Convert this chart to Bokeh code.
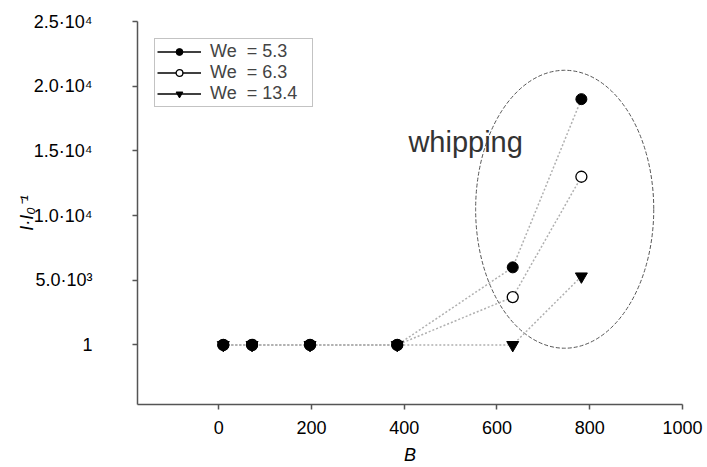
from bokeh.plotting import figure
from bokeh.models import Range1d, FixedTicker, Legend, LegendItem, ColumnDataSource
from bokeh.core.properties import value
from bokeh.embed import file_html
from bokeh.resources import INLINE

# ---- data ----
b_values = [10, 72, 197, 385, 634, 782]
we53 = [1, 1, 1, 1, 6000, 19000]
we63 = [1, 1, 1, 1, 3700, 13000]
we134 = [1, 1, 1, 1, 1, 5300]
series_labels = ["We\u00a0\u00a0= 5.3", "We\u00a0\u00a0= 6.3", "We\u00a0\u00a0= 13.4"]

y_ticks = [0, 5000, 10000, 15000, 20000, 25000]
y_tick_labels = ["1", "5.0·10³", "1.0·10⁴", "1.5·10⁴", "2.0·10⁴", "2.5·10⁴"]
x_ticks = [0, 200, 400, 600, 800, 1000]

# annotation: ellipse around the whipping regime, and its label
ellipse_center = [746, 10490]
ellipse_size = [384, 21480]
note_text = "whipping"
note_pos = [409, 15690]

FONT = "Liberation Sans"

p = figure(width=707, height=467, output_backend="svg", toolbar_location=None,
           x_range=Range1d(-175, 1000), y_range=Range1d(-4600, 25000),
           min_border_left=137, min_border_right=25, min_border_top=21, min_border_bottom=63)
p.outline_line_color = None
p.xgrid.visible = False
p.ygrid.visible = False
p.background_fill_color = "white"
p.border_fill_color = "white"

for ax in (p.xaxis[0], p.yaxis[0]):
    ax.axis_line_color = "#555555"
    ax.axis_line_width = 1.5
    ax.major_tick_line_color = "#555555"
    ax.major_tick_line_width = 1.5
    ax.major_tick_in = 0
    ax.major_tick_out = 5
    ax.minor_tick_line_color = None
    ax.major_label_text_font = FONT
    ax.major_label_text_font_size = "18px"
    ax.major_label_text_color = "black"
    ax.axis_label_text_font = FONT
    ax.axis_label_text_font_size = "18px"
    ax.axis_label_text_font_style = "italic"
    ax.axis_label_text_color = "black"

p.xaxis.ticker = FixedTicker(ticks=x_ticks)
p.xaxis.major_label_standoff = 11
p.xaxis.axis_label = "B"
p.xaxis.axis_label_standoff = 8

p.yaxis.ticker = FixedTicker(ticks=y_ticks)
p.yaxis.major_label_overrides = {t: l for t, l in zip(y_ticks, y_tick_labels)}
p.yaxis.major_label_text_align = "center"
p.yaxis.major_label_standoff = 40
p.yaxis.axis_label = "I·I₀⁻¹"
p.yaxis.axis_label_standoff = -6

# ellipse and note
p.ellipse(x=[ellipse_center[0]], y=[ellipse_center[1]], width=[ellipse_size[0]],
          height=[ellipse_size[1]], fill_color=None, line_color="#555555",
          line_width=1, line_dash="4 2")
p.text(x=[note_pos[0]], y=[note_pos[1]], text=[note_text], text_font=value(FONT),
       text_font_size="29px", text_color="#333333", text_baseline="alphabetic",
       text_align="left")

src = ColumnDataSource(dict(b=b_values, a=we53, c=we63, d=we134))

line_kw = dict(line_color="#b0b0b0", line_width=1.5, line_dash="2 2")
p.line("b", "a", source=src, **line_kw)
p.line("b", "c", source=src, **line_kw)
p.line("b", "d", source=src, **line_kw)

r63 = p.scatter("b", "c", source=src, marker="circle", size=11, fill_color="white",
                line_color="black", line_width=1.3)
r134 = p.scatter("b", "d", source=src, marker="inverted_triangle", size=12,
                 fill_color="black", line_color="black")
r53 = p.scatter("b", "a", source=src, marker="circle", size=11, fill_color="black",
                line_color="black")

# legend-only line (no visible data)
nan = float("nan")
leg_src = ColumnDataSource(dict(x=[nan, nan], y=[nan, nan]))
leg_line = p.line("x", "y", source=leg_src, line_color="black", line_width=1.3)

legend = Legend(items=[
    LegendItem(label=series_labels[0], renderers=[leg_line, r53]),
    LegendItem(label=series_labels[1], renderers=[leg_line, r63]),
    LegendItem(label=series_labels[2], renderers=[leg_line, r134]),
], location=(17, 297), margin=0, padding=2, spacing=0,
    glyph_width=44, glyph_height=17, label_height=17, label_standoff=9,
    label_width=100,
    label_text_font=FONT, label_text_font_size="18px",
    border_line_color="#888888", border_line_width=1, background_fill_alpha=1)
p.add_layout(legend, "center")

open("out.html", "w").write(file_html(p, INLINE))
